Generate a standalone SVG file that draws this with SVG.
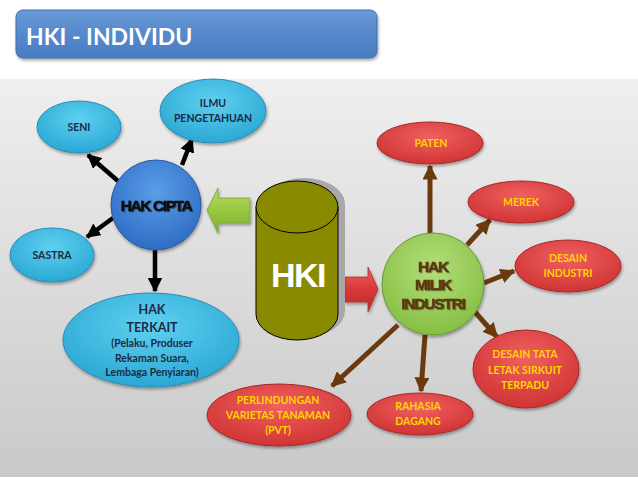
<svg xmlns="http://www.w3.org/2000/svg" width="638" height="479" viewBox="0 0 638 479">
<defs>
<linearGradient id="bg" x1="0" y1="0" x2="0" y2="1"><stop offset="0" stop-color="#efefef"/><stop offset="1" stop-color="#c9c9c9"/></linearGradient>
<linearGradient id="title" x1="0" y1="0" x2="0" y2="1"><stop offset="0" stop-color="#6a9ad6"/><stop offset="0.5" stop-color="#5688cc"/><stop offset="1" stop-color="#4a7cc0"/></linearGradient>
<radialGradient id="blue" cx="0.5" cy="0.35" r="0.65"><stop offset="0" stop-color="#5fd0f0"/><stop offset="1" stop-color="#2aa8d4"/></radialGradient>
<radialGradient id="dblue" cx="0.5" cy="0.35" r="0.65"><stop offset="0" stop-color="#5a9ee8"/><stop offset="1" stop-color="#2f6cc4"/></radialGradient>
<radialGradient id="red" cx="0.5" cy="0.35" r="0.65"><stop offset="0" stop-color="#f06060"/><stop offset="1" stop-color="#d03434"/></radialGradient>
<radialGradient id="green" cx="0.5" cy="0.35" r="0.65"><stop offset="0" stop-color="#b4de7a"/><stop offset="1" stop-color="#86bf44"/></radialGradient>
<linearGradient id="garrow" x1="0" y1="0" x2="0" y2="1"><stop offset="0" stop-color="#b8dc6a"/><stop offset="0.5" stop-color="#98c840"/><stop offset="1" stop-color="#7eae30"/></linearGradient>
<linearGradient id="rarrow" x1="0" y1="0" x2="0" y2="1"><stop offset="0" stop-color="#ee6060"/><stop offset="0.5" stop-color="#d83838"/><stop offset="1" stop-color="#b82a2a"/></linearGradient>
<filter id="sh" x="-20%" y="-20%" width="140%" height="150%"><feDropShadow dx="1" dy="2" stdDeviation="1.5" flood-color="#000" flood-opacity="0.35"/></filter>
<filter id="tsh" x="-10%" y="-20%" width="120%" height="150%"><feDropShadow dx="1" dy="1" stdDeviation="0.6" flood-color="#000" flood-opacity="0.35"/></filter>
<marker id="ab" viewBox="0 0 10 10" refX="9" refY="5" markerWidth="3.2" markerHeight="3.2" orient="auto" markerUnits="strokeWidth"><path d="M0,0 L10,5 L0,10 z" fill="#000"/></marker>
<marker id="am" viewBox="0 0 10 10" refX="9" refY="5" markerWidth="3" markerHeight="3" orient="auto" markerUnits="strokeWidth"><path d="M0,0 L10,5 L0,10 z" fill="#6b3a0c"/></marker>
<style>
.bn{fill:url(#blue);stroke:#2a8cb4;stroke-width:1;filter:url(#sh)}
.rn{fill:url(#red);stroke:#a82828;stroke-width:1;filter:url(#sh)}
.bt{font-family:Lato,"Open Sans","Liberation Sans",sans-serif;font-weight:bold;font-size:10.5px;fill:#1c2a44;text-anchor:middle}
.bt2{font-size:12.5px}
.rt{font-family:Lato,"Open Sans","Liberation Sans",sans-serif;font-weight:bold;font-size:10.5px;fill:#ffd400;text-anchor:middle}
.ht{font-family:"Liberation Sans",Arial,sans-serif;font-weight:bold;text-anchor:middle}
.bl{stroke:#000;stroke-width:4.5;fill:none;marker-end:url(#ab)}
.br{stroke:#6b3a0c;stroke-width:5;fill:none;marker-end:url(#am)}
</style>
</defs>
<rect x="0" y="0" width="638" height="479" fill="#fff"/>
<rect x="0" y="79" width="638" height="398" fill="url(#bg)"/>
<g id="title-bar">
<rect x="16" y="10" width="361" height="48" rx="7" fill="url(#title)" stroke="#3f6fae" stroke-width="1" filter="url(#sh)"/>
<text x="26" y="45" font-family="Lato,Open Sans,Liberation Sans,sans-serif" font-weight="bold" font-size="23" fill="#fff">HKI - INDIVIDU</text>
</g>
<g id="connectors">
<line class="bl" x1="118" y1="181" x2="88" y2="155"/>
<line class="bl" x1="182" y1="165" x2="192" y2="139"/>
<line class="bl" x1="113" y1="218" x2="87" y2="237"/>
<line class="bl" x1="155" y1="250" x2="155" y2="291"/>
<line class="br" x1="430" y1="233" x2="430" y2="166"/>
<line class="br" x1="467" y1="245" x2="490" y2="220"/>
<line class="br" x1="484" y1="283" x2="514" y2="271"/>
<line class="br" x1="475" y1="312" x2="497" y2="337"/>
<line class="br" x1="425" y1="335" x2="421" y2="391"/>
<line class="br" x1="398" y1="325" x2="332" y2="386"/>
<polygon points="207,210 218,188 218,198 250,198 250,223 218,223 218,233" fill="url(#garrow)" stroke="#7aa23a" stroke-width="0.8" filter="url(#sh)"/>
<polygon points="345,277 368,277 368,267 378,289 368,312 368,302 345,302" fill="url(#rarrow)" stroke="#a83030" stroke-width="0.8" filter="url(#sh)"/>
</g>
<g id="hki">
<path d="M259,207 L259,314 A41,26 0 0 0 341,314 L341,207 Z" fill="#a8a8a8" transform="translate(4,-3)"/>
<ellipse cx="304" cy="204" rx="41" ry="26" fill="#a8a8a8"/>
<path d="M256,207 L256,314 A41,26 0 0 0 338,314 L338,207 Z" fill="#8a8a00" stroke="#000" stroke-width="1"/>
<ellipse cx="297" cy="207" rx="41" ry="26" fill="#8a8a00" stroke="#000" stroke-width="1"/>
<text class="ht" x="298" y="287" font-size="34" letter-spacing="-1.5" fill="#fff">HKI</text>
</g>
<g id="hak-cipta">
<circle cx="156" cy="205" r="45" fill="url(#dblue)" stroke="#2a5c9c" stroke-width="1" filter="url(#sh)"/>
<text class="ht" x="156" y="211" font-size="15.5" letter-spacing="-1.4" fill="#111" stroke="#111" stroke-width="0.6" filter="url(#tsh)">HAK CIPTA</text>
</g>
<g id="seni">
<ellipse class="bn" cx="79" cy="127" rx="42" ry="26"/>
<text class="bt" x="79" y="131">SENI</text>
</g>
<g id="ilmu">
<ellipse class="bn" cx="213" cy="111" rx="53" ry="32"/>
<text class="bt" x="213" y="107">ILMU</text>
<text class="bt" x="213" y="122">PENGETAHUAN</text>
</g>
<g id="sastra">
<ellipse class="bn" cx="52" cy="255" rx="42" ry="27"/>
<text class="bt" x="52" y="259">SASTRA</text>
</g>
<g id="hak-terkait">
<ellipse class="bn" cx="151" cy="340" rx="88" ry="47"/>
<text class="bt bt2" x="152" y="314">HAK</text>
<text class="bt bt2" x="152" y="332">TERKAIT</text>
<text class="bt" x="152" y="347">(Pelaku, Produser</text>
<text class="bt" x="152" y="362">Rekaman Suara,</text>
<text class="bt" x="152" y="376">Lembaga Penyiaran)</text>
</g>
<g id="hak-milik">
<circle cx="433" cy="284" r="51" fill="url(#green)" stroke="#6a9a36" stroke-width="1" filter="url(#sh)"/>
<text class="ht" x="433" y="272" font-size="15.5" letter-spacing="-1.2" fill="#5e3610" stroke="#5e3610" stroke-width="0.5" filter="url(#tsh)">HAK</text>
<text class="ht" x="433" y="290" font-size="15.5" letter-spacing="-1.2" fill="#5e3610" stroke="#5e3610" stroke-width="0.5" filter="url(#tsh)">MILIK</text>
<text class="ht" x="433" y="309" font-size="15.5" letter-spacing="-1.2" fill="#5e3610" stroke="#5e3610" stroke-width="0.5" filter="url(#tsh)">INDUSTRI</text>
</g>
<g id="paten">
<ellipse class="rn" cx="430" cy="143" rx="53" ry="21"/>
<text class="rt" x="431" y="147">PATEN</text>
</g>
<g id="merek">
<ellipse class="rn" cx="521" cy="202" rx="53" ry="21"/>
<text class="rt" x="521" y="206">MEREK</text>
</g>
<g id="desain-industri">
<ellipse class="rn" cx="568" cy="266" rx="53" ry="26"/>
<text class="rt" x="568" y="262">DESAIN</text>
<text class="rt" x="568" y="277">INDUSTRI</text>
</g>
<g id="desain-tata">
<ellipse class="rn" cx="526" cy="369" rx="53" ry="39"/>
<text class="rt" x="525" y="358">DESAIN TATA</text>
<text class="rt" x="525" y="374">LETAK SIRKUIT</text>
<text class="rt" x="525" y="389">TERPADU</text>
</g>
<g id="rahasia">
<ellipse class="rn" cx="420" cy="414" rx="53" ry="21"/>
<text class="rt" x="418" y="410">RAHASIA</text>
<text class="rt" x="418" y="425">DAGANG</text>
</g>
<g id="pvt">
<ellipse class="rn" cx="279" cy="415" rx="72" ry="31"/>
<text class="rt" x="278" y="404">PERLINDUNGAN</text>
<text class="rt" x="278" y="419">VARIETAS TANAMAN</text>
<text class="rt" x="278" y="434">(PVT)</text>
</g>
</svg>
